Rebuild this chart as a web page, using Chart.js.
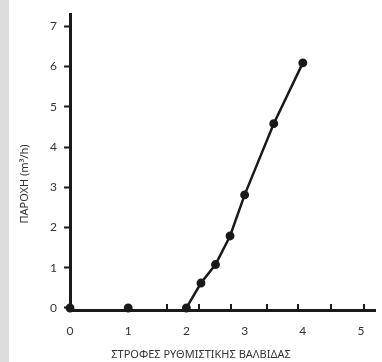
<!DOCTYPE html>
<html>
<head>
<meta charset="utf-8">
<script src="https://cdn.jsdelivr.net/npm/chart.js@4"></script>
<style>
  html, body { margin: 0; padding: 0; background: #fff; }
  #wrap {
    width: 382px; height: 362px; position: relative;
    background: linear-gradient(to right, #dcdddf 9px, #ffffff 9px);
  }
</style>
</head>
<body>
<div id="wrap"><canvas id="c" width="382" height="362"></canvas></div>
<script>
// valve turns vs flow rate
const turns = [0, 1, 2, 2.25, 2.5, 2.75, 3, 3.5, 4];
const flow = [0, 0, 0, 0.62, 1.08, 1.79, 2.81, 4.58, 6.09];

const xTicks = [0, 1, 2, 3, 4, 5];
const yTicks = [0, 1, 2, 3, 4, 5, 6, 7];
// small upward tick marks on the x axis (they don't line up with the labels)
const xMinorTicks = [1.66, 2.22, 2.77, 3.38, 3.92, 4.49, 5.05];

const xTitle = "ΣΤΡΟΦΕΣ ΡΥΘΜΙΣΤΙΚΗΣ ΒΑΛΒΙΔΑΣ";
const yTitle = "ΠΑΡΟΧΗ (m³/h)";

const ink = "#1a1a1a";
const labelColor = "#333333";

const extras = {
  id: "extras",
  afterDraw(chart) {
    const ctx = chart.ctx;
    const x = chart.scales.x;
    const area = chart.chartArea;
    ctx.save();
    ctx.strokeStyle = ink;
    ctx.lineWidth = 2;
    xMinorTicks.forEach(v => {
      const px = Math.round(x.getPixelForValue(v));
      ctx.beginPath();
      ctx.moveTo(px, area.bottom - 6);
      ctx.lineTo(px, area.bottom);
      ctx.stroke();
    });

    // axis titles, placed like the original (not centred on the axes)
    ctx.fillStyle = labelColor;
    ctx.font = "11px 'Noto Sans'";
    ctx.textAlign = "center";
    ctx.textBaseline = "middle";
    ctx.fillText(xTitle, 201, 355);
    ctx.translate(25, 184);
    ctx.rotate(-Math.PI / 2);
    ctx.fillText(yTitle, 0, 0);
    ctx.restore();
  }
};

new Chart(document.getElementById("c"), {
  type: "scatter",
  data: {
    datasets: [{
      data: turns.map((t, i) => ({ x: t, y: flow[i] })),
      showLine: true,
      borderColor: ink,
      backgroundColor: ink,
      borderWidth: 2.5,
      pointRadius: 3.2,
      pointHoverRadius: 3.2,
      clip: false,
      // no visible line along the axis before the valve opens
      segment: {
        borderColor: c => c.p1DataIndex <= 2 ? "rgba(0,0,0,0)" : undefined
      }
    }]
  },
  options: {
    responsive: false,
    animation: false,
    events: [],
    layout: { padding: { top: 12, right: 7, left: 0, bottom: 0 } },
    plugins: {
      legend: { display: false },
      tooltip: { enabled: false }
    },
    scales: {
      x: {
        type: "linear",
        min: 0,
        max: 5.24,
        afterBuildTicks: s => { s.ticks = xTicks.map(v => ({ value: v })); },
        afterFit: s => { s.height = 52; },
        grid: { display: false },
        border: { display: true, width: 3, color: ink },
        ticks: {
          color: labelColor,
          padding: 6,
          font: { family: "Lato", size: 12 }
        }
      },
      y: {
        min: -0.05,
        max: 7.3,
        afterBuildTicks: s => { s.ticks = yTicks.map(v => ({ value: v })); },
        afterFit: s => { s.width = 70; },
        grid: {
          drawOnChartArea: false,
          drawTicks: true,
          tickLength: 6,
          tickWidth: 2,
          tickColor: ink
        },
        border: { display: true, width: 3, color: ink },
        ticks: {
          color: labelColor,
          padding: 7,
          font: { family: "Lato", size: 12 }
        }
      }
    }
  },
  plugins: [extras]
});
</script>
</body>
</html>
